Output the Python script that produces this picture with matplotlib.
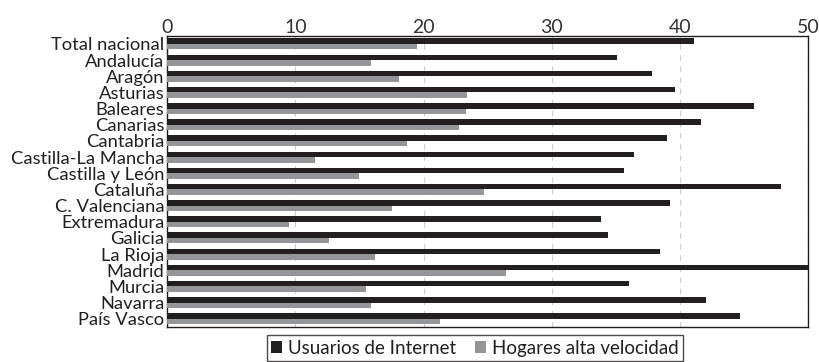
import matplotlib
matplotlib.use('Agg')
import matplotlib.pyplot as plt
import numpy as np

plt.rcParams['font.family'] = ['Lato', 'DejaVu Sans']

regiones = ['Total nacional', 'Andalucía', 'Aragón', 'Asturias', 'Baleares',
            'Canarias', 'Cantabria', 'Castilla-La Mancha', 'Castilla y León',
            'Cataluña', 'C. Valenciana', 'Extremadura', 'Galicia', 'La Rioja',
            'Madrid', 'Murcia', 'Navarra', 'País Vasco']
usuarios = [41.1, 35.1, 37.8, 39.6, 45.8, 41.6, 39.0, 36.4, 35.6,
            47.9, 39.2, 33.8, 34.4, 38.4, 50.3, 36.0, 42.0, 44.7]
hogares = [19.5, 15.9, 18.1, 23.4, 23.3, 22.8, 18.7, 11.5, 15.0,
           24.7, 17.5, 9.5, 12.6, 16.2, 26.4, 15.5, 15.9, 21.3]

fig = plt.figure(figsize=(8.19, 3.62), dpi=100)
ax = fig.add_axes([0.204, 0.097, 0.783, 0.804])

y = np.arange(len(regiones))
h = 0.34
ax.barh(y - h / 2, usuarios, height=h, color='#231f20', label='Usuarios de Internet', zorder=3)
ax.barh(y + h / 2, hogares, height=h, color='#939598', label='Hogares alta velocidad', zorder=3)

ax.set_xlim(0, 50)
ax.set_ylim(len(regiones) - 0.5, -0.5)
ax.set_yticks(y)
ax.set_yticklabels(regiones, fontsize=13.2, color='#231f20')
ax.set_xticks([0, 10, 20, 30, 40, 50])
ax.xaxis.tick_top()
ax.tick_params(axis='x', length=0, labelsize=14, pad=0, colors='#333333')
ax.tick_params(axis='y', length=0, pad=2)
ax.grid(axis='x', linestyle=(0, (5, 5)), color='#cccccc', linewidth=0.8, zorder=0)
for s in ax.spines.values():
    s.set_color('#231f20')
    s.set_linewidth(1.0)

leg = ax.legend(loc='upper center', bbox_to_anchor=(0.48, -0.028), ncol=2, fontsize=13.5,
                frameon=True, fancybox=False, edgecolor='#231f20', handlelength=0.6,
                handleheight=0.6, handletextpad=0.3, columnspacing=1.0, borderpad=0.25,
                borderaxespad=0)
leg.get_frame().set_linewidth(1.0)
for t in leg.get_texts():
    t.set_color('#231f20')

fig.savefig('out.png', dpi=100)
